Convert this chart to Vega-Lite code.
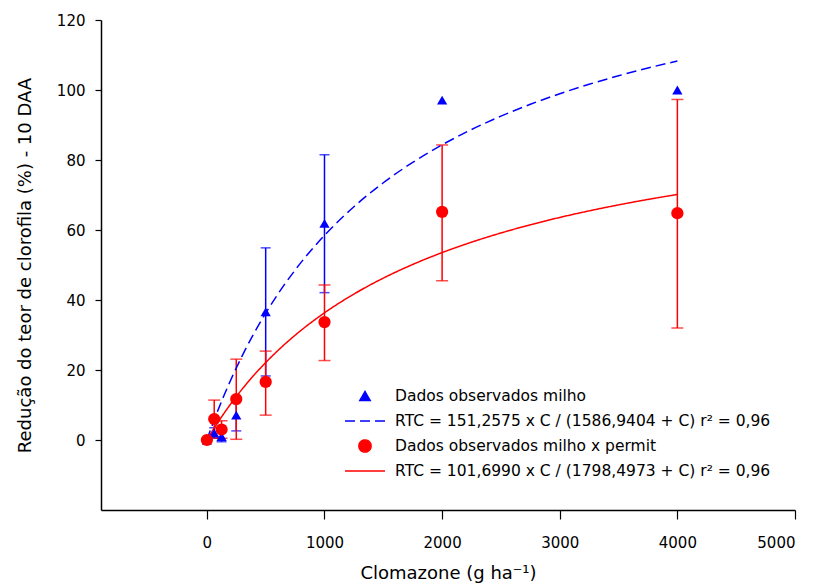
{
  "$schema": "https://vega.github.io/schema/vega-lite/v6.json",
  "width": 694,
  "height": 490,
  "autosize": "none",
  "padding": {"left": 101, "top": 20, "right": 19, "bottom": 76},
  "background": "white",
  "config": {
    "view": {"stroke": null},
    "font": "DejaVu Sans",
    "axis": {"grid": false, "domainColor": "#000", "domainWidth": 1.5, "tickColor": "#000", "tickWidth": 1.2, "labelColor": "#000", "titleColor": "#000", "labelFont": "DejaVu Sans", "titleFont": "DejaVu Sans", "titleFontWeight": "normal", "labelFontSize": 15, "titleFontSize": 18},
    "legend": {
      "orient": "none", "legendX": 243, "legendY": 368, "padding": 0, "clipHeight": 16,
      "labelFont": "DejaVu Sans", "labelFontSize": 15.5, "labelColor": "#000", "labelLimit": 500,
      "labelOffset": 9, "rowPadding": 8, "symbolStrokeWidth": 1.5, "symbolOpacity": 1
    }
  },
  "datasets": {
    "obs": [
      {"dose": 0, "value": 0, "lo": null, "hi": null, "series": "Dados observados milho"},
      {"dose": 62.5, "value": 2, "lo": 0.5, "hi": 3.5, "series": "Dados observados milho"},
      {"dose": 125, "value": 1, "lo": -0.5, "hi": 2.5, "series": "Dados observados milho"},
      {"dose": 250, "value": 7.1, "lo": 2.6, "hi": 11.6, "series": "Dados observados milho"},
      {"dose": 500, "value": 36.6, "lo": 18.3, "hi": 54.9, "series": "Dados observados milho"},
      {"dose": 1000, "value": 61.9, "lo": 42.1, "hi": 81.5, "series": "Dados observados milho"},
      {"dose": 2000, "value": 97.1, "lo": null, "hi": null, "series": "Dados observados milho"},
      {"dose": 4000, "value": 100, "lo": null, "hi": null, "series": "Dados observados milho"},
      {"dose": 0, "value": 0, "lo": null, "hi": null, "series": "Dados observados milho x permit"},
      {"dose": 62.5, "value": 6, "lo": 0.6, "hi": 11.4, "series": "Dados observados milho x permit"},
      {"dose": 125, "value": 3, "lo": 0.5, "hi": 5.5, "series": "Dados observados milho x permit"},
      {"dose": 250, "value": 11.7, "lo": 0.2, "hi": 23.1, "series": "Dados observados milho x permit"},
      {"dose": 500, "value": 16.6, "lo": 7.1, "hi": 25.4, "series": "Dados observados milho x permit"},
      {"dose": 1000, "value": 33.7, "lo": 22.7, "hi": 44.3, "series": "Dados observados milho x permit"},
      {"dose": 2000, "value": 65.2, "lo": 45.5, "hi": 84.3, "series": "Dados observados milho x permit"},
      {"dose": 4000, "value": 64.8, "lo": 32.0, "hi": 97.3, "series": "Dados observados milho x permit"}
    ],
    "fit": [
      {"c": 0, "v": 0, "series": "RTC = 151,2575 x C / (1586,9404 + C) r² = 0,96"},
      {"c": 25, "v": 2.346, "series": "RTC = 151,2575 x C / (1586,9404 + C) r² = 0,96"},
      {"c": 50, "v": 4.620, "series": "RTC = 151,2575 x C / (1586,9404 + C) r² = 0,96"},
      {"c": 100, "v": 8.966, "series": "RTC = 151,2575 x C / (1586,9404 + C) r² = 0,96"},
      {"c": 150, "v": 13.062, "series": "RTC = 151,2575 x C / (1586,9404 + C) r² = 0,96"},
      {"c": 200, "v": 16.929, "series": "RTC = 151,2575 x C / (1586,9404 + C) r² = 0,96"},
      {"c": 300, "v": 24.048, "series": "RTC = 151,2575 x C / (1586,9404 + C) r² = 0,96"},
      {"c": 400, "v": 30.450, "series": "RTC = 151,2575 x C / (1586,9404 + C) r² = 0,96"},
      {"c": 500, "v": 36.239, "series": "RTC = 151,2575 x C / (1586,9404 + C) r² = 0,96"},
      {"c": 600, "v": 41.499, "series": "RTC = 151,2575 x C / (1586,9404 + C) r² = 0,96"},
      {"c": 750, "v": 48.543, "series": "RTC = 151,2575 x C / (1586,9404 + C) r² = 0,96"},
      {"c": 1000, "v": 58.470, "series": "RTC = 151,2575 x C / (1586,9404 + C) r² = 0,96"},
      {"c": 1250, "v": 66.647, "series": "RTC = 151,2575 x C / (1586,9404 + C) r² = 0,96"},
      {"c": 1500, "v": 73.498, "series": "RTC = 151,2575 x C / (1586,9404 + C) r² = 0,96"},
      {"c": 1750, "v": 79.324, "series": "RTC = 151,2575 x C / (1586,9404 + C) r² = 0,96"},
      {"c": 2000, "v": 84.337, "series": "RTC = 151,2575 x C / (1586,9404 + C) r² = 0,96"},
      {"c": 2250, "v": 88.698, "series": "RTC = 151,2575 x C / (1586,9404 + C) r² = 0,96"},
      {"c": 2500, "v": 92.525, "series": "RTC = 151,2575 x C / (1586,9404 + C) r² = 0,96"},
      {"c": 2750, "v": 95.910, "series": "RTC = 151,2575 x C / (1586,9404 + C) r² = 0,96"},
      {"c": 3000, "v": 98.927, "series": "RTC = 151,2575 x C / (1586,9404 + C) r² = 0,96"},
      {"c": 3250, "v": 101.632, "series": "RTC = 151,2575 x C / (1586,9404 + C) r² = 0,96"},
      {"c": 3500, "v": 104.071, "series": "RTC = 151,2575 x C / (1586,9404 + C) r² = 0,96"},
      {"c": 3750, "v": 106.280, "series": "RTC = 151,2575 x C / (1586,9404 + C) r² = 0,96"},
      {"c": 4000, "v": 108.293, "series": "RTC = 151,2575 x C / (1586,9404 + C) r² = 0,96"},
      {"c": 0, "v": 0, "series": "RTC = 101,6990 x C / (1798,4973 + C) r² = 0,96"},
      {"c": 25, "v": 1.394, "series": "RTC = 101,6990 x C / (1798,4973 + C) r² = 0,96"},
      {"c": 50, "v": 2.751, "series": "RTC = 101,6990 x C / (1798,4973 + C) r² = 0,96"},
      {"c": 100, "v": 5.357, "series": "RTC = 101,6990 x C / (1798,4973 + C) r² = 0,96"},
      {"c": 150, "v": 7.829, "series": "RTC = 101,6990 x C / (1798,4973 + C) r² = 0,96"},
      {"c": 200, "v": 10.178, "series": "RTC = 101,6990 x C / (1798,4973 + C) r² = 0,96"},
      {"c": 300, "v": 14.539, "series": "RTC = 101,6990 x C / (1798,4973 + C) r² = 0,96"},
      {"c": 400, "v": 18.503, "series": "RTC = 101,6990 x C / (1798,4973 + C) r² = 0,96"},
      {"c": 500, "v": 22.123, "series": "RTC = 101,6990 x C / (1798,4973 + C) r² = 0,96"},
      {"c": 600, "v": 25.441, "series": "RTC = 101,6990 x C / (1798,4973 + C) r² = 0,96"},
      {"c": 750, "v": 29.929, "series": "RTC = 101,6990 x C / (1798,4973 + C) r² = 0,96"},
      {"c": 1000, "v": 36.341, "series": "RTC = 101,6990 x C / (1798,4973 + C) r² = 0,96"},
      {"c": 1250, "v": 41.700, "series": "RTC = 101,6990 x C / (1798,4973 + C) r² = 0,96"},
      {"c": 1500, "v": 46.248, "series": "RTC = 101,6990 x C / (1798,4973 + C) r² = 0,96"},
      {"c": 1750, "v": 50.154, "series": "RTC = 101,6990 x C / (1798,4973 + C) r² = 0,96"},
      {"c": 2000, "v": 53.547, "series": "RTC = 101,6990 x C / (1798,4973 + C) r² = 0,96"},
      {"c": 2250, "v": 56.520, "series": "RTC = 101,6990 x C / (1798,4973 + C) r² = 0,96"},
      {"c": 2500, "v": 59.148, "series": "RTC = 101,6990 x C / (1798,4973 + C) r² = 0,96"},
      {"c": 2750, "v": 61.487, "series": "RTC = 101,6990 x C / (1798,4973 + C) r² = 0,96"},
      {"c": 3000, "v": 63.582, "series": "RTC = 101,6990 x C / (1798,4973 + C) r² = 0,96"},
      {"c": 3250, "v": 65.469, "series": "RTC = 101,6990 x C / (1798,4973 + C) r² = 0,96"},
      {"c": 3500, "v": 67.179, "series": "RTC = 101,6990 x C / (1798,4973 + C) r² = 0,96"},
      {"c": 3750, "v": 68.734, "series": "RTC = 101,6990 x C / (1798,4973 + C) r² = 0,96"},
      {"c": 4000, "v": 70.155, "series": "RTC = 101,6990 x C / (1798,4973 + C) r² = 0,96"}
    ]
  },
  "layer": [
    {
      "data": {"name": "obs"},
      "transform": [{"filter": "isValid(datum.lo) && datum.series === 'Dados observados milho'"}],
      "mark": {"type": "errorbar", "color": "#0000ff", "thickness": 1.5, "ticks": {"size": 10}},
      "encoding": {
        "x": {"field": "dose", "type": "quantitative", "title": "Clomazone (g ha⁻¹)", "scale": {"domain": [-900, 5000], "nice": false, "zero": false},
          "axis": {"values": [0, 1000, 2000, 3000, 4000, 5000], "tickSize": 9, "labelPadding": 16, "titlePadding": 14, "format": "d"}},
        "y": {"field": "lo", "type": "quantitative", "title": "Redução do teor de clorofila (%) - 10 DAA", "scale": {"domain": [-20, 120], "nice": false, "zero": false},
          "axis": {"values": [0, 20, 40, 60, 80, 100, 120], "tickSize": 6, "labelPadding": 10, "titlePadding": 22}},
        "y2": {"field": "hi"}
      }
    },
    {
      "data": {"name": "obs"},
      "transform": [{"filter": "isValid(datum.lo) && datum.series === 'Dados observados milho x permit'"}],
      "mark": {"type": "errorbar", "color": "#ff0000", "thickness": 1.5, "ticks": {"size": 12}},
      "encoding": {
        "x": {"field": "dose", "type": "quantitative", "title": "Clomazone (g ha⁻¹)"},
        "y": {"field": "lo", "type": "quantitative", "title": "Redução do teor de clorofila (%) - 10 DAA"},
        "y2": {"field": "hi"}
      }
    },
    {
      "data": {"name": "fit"},
      "mark": {"type": "line", "strokeWidth": 1.5, "interpolate": "monotone"},
      "encoding": {
        "x": {"field": "c", "type": "quantitative", "title": "Clomazone (g ha⁻¹)"},
        "y": {"field": "v", "type": "quantitative", "title": "Redução do teor de clorofila (%) - 10 DAA"},
        "color": {"field": "series", "type": "nominal", "title": null},
        "strokeDash": {"field": "series", "type": "nominal", "title": null,
          "scale": {"domain": ["Dados observados milho", "RTC = 151,2575 x C / (1586,9404 + C) r² = 0,96", "Dados observados milho x permit", "RTC = 101,6990 x C / (1798,4973 + C) r² = 0,96"],
            "range": [[1, 0], [10, 5], [1, 0], [1, 0]]}}
      }
    },
    {
      "data": {"name": "obs"},
      "mark": {"type": "point", "filled": true, "opacity": 1},
      "encoding": {
        "x": {"field": "dose", "type": "quantitative", "title": "Clomazone (g ha⁻¹)"},
        "y": {"field": "value", "type": "quantitative", "title": "Redução do teor de clorofila (%) - 10 DAA"},
        "size": {"field": "series", "type": "nominal", "title": null,
          "scale": {"type": "ordinal", "domain": ["Dados observados milho", "RTC = 151,2575 x C / (1586,9404 + C) r² = 0,96", "Dados observados milho x permit", "RTC = 101,6990 x C / (1798,4973 + C) r² = 0,96"],
            "range": [105, 1600, 150, 1600]}},
        "color": {"field": "series", "type": "nominal", "title": null,
          "scale": {"domain": ["Dados observados milho", "RTC = 151,2575 x C / (1586,9404 + C) r² = 0,96", "Dados observados milho x permit", "RTC = 101,6990 x C / (1798,4973 + C) r² = 0,96"],
            "range": ["#0000ff", "#0000ff", "#ff0000", "#ff0000"]}},
        "shape": {"field": "series", "type": "nominal", "title": null,
          "scale": {"domain": ["Dados observados milho", "RTC = 151,2575 x C / (1586,9404 + C) r² = 0,96", "Dados observados milho x permit", "RTC = 101,6990 x C / (1798,4973 + C) r² = 0,96"],
            "range": ["triangle-up", "stroke", "circle", "stroke"]}}
      }
    }
  ]
}
